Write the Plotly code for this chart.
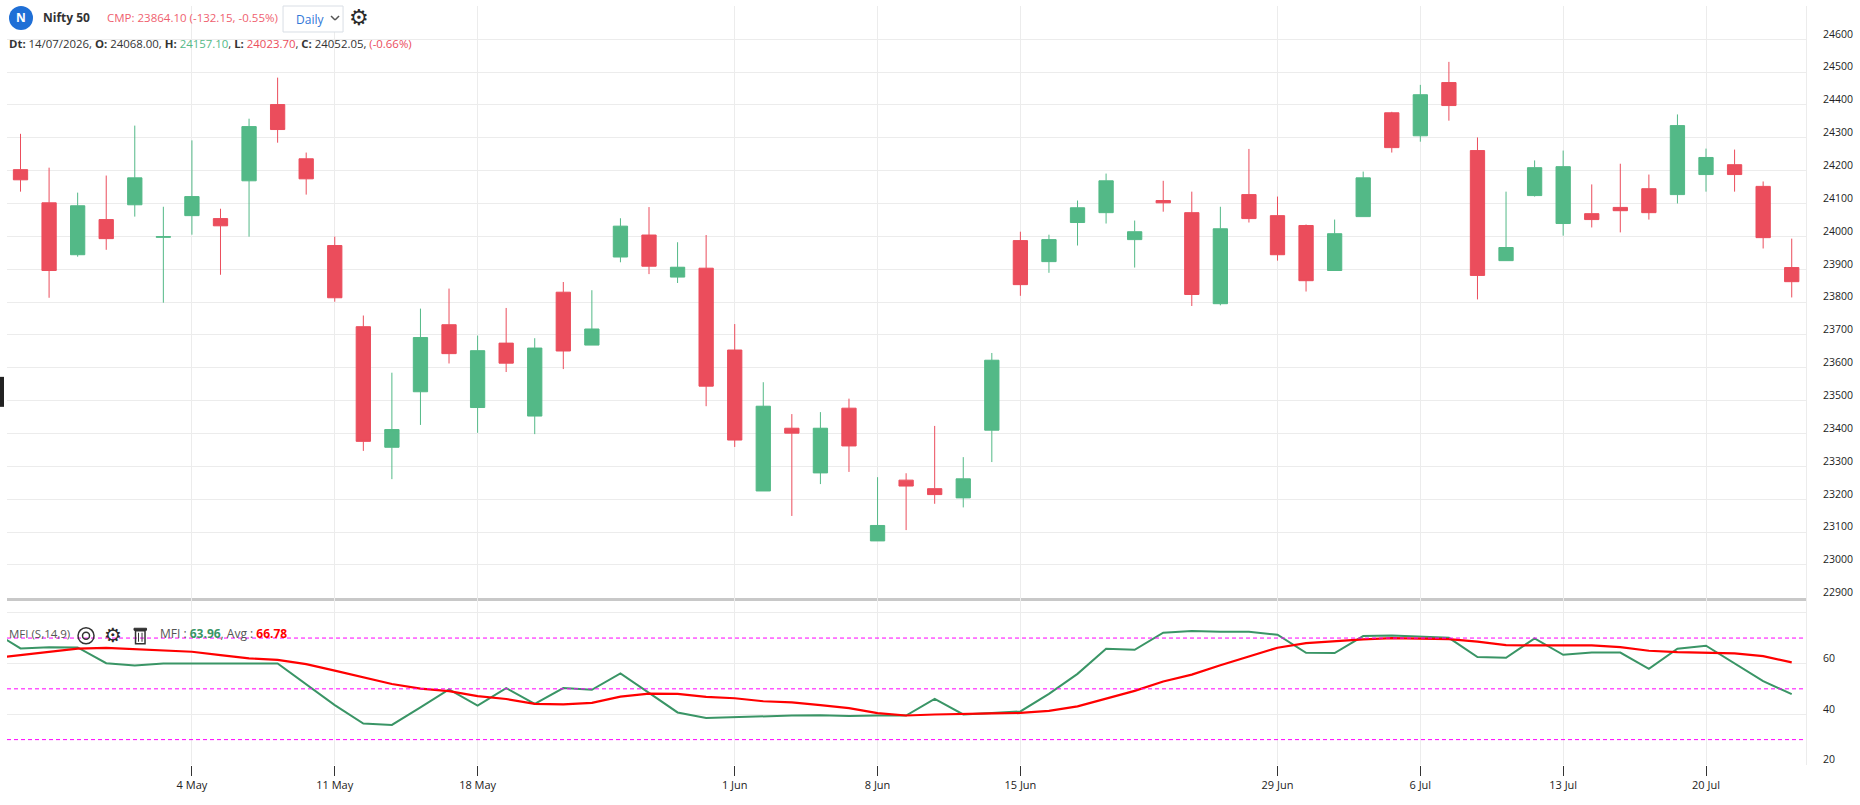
import plotly.graph_objects as go
from plotly.subplots import make_subplots

# candle data, one entry per trading session
candle_idx = list(range(63))
opens = [24203, 24102, 23944, 24051, 24096, 23997, 24063, 24054, 24169, 24401, 24236,
         23972, 23725, 23358, 23527, 23731, 23479, 23675, 23453, 23830, 23669,
         23937, 24004, 23876, 23903, 23654, 23225, 23416, 23280, 23477, 23073,
         23258, 23232, 23204, 23410, 23987, 23923, 24042, 24072, 23990, 24109,
         24072, 23795, 24127, 24063, 24033, 23896, 24060, 24376, 24306, 24468,
         24261, 23926, 24124, 24039, 24069, 24088, 24145, 24127, 24188, 24218,
         24152, 23905]
highs = [24312, 24209, 24133, 24185, 24337, 24090, 24292, 24084, 24358, 24483, 24255,
         23999, 23759, 23585, 23780, 23841, 23698, 23782, 23690, 23861, 23836,
         24055, 24089, 23982, 24004, 23733, 23556, 23459, 23465, 23506, 23267,
         23279, 23423, 23328, 23645, 24014, 24005, 24109, 24191, 24048, 24169,
         24136, 24090, 24266, 24121, 24036, 24051, 24197, 24379, 24461, 24531,
         24301, 24136, 24231, 24261, 24158, 24221, 24188, 24371, 24267, 24264,
         24167, 23993]
lows = [24136, 23813, 23938, 23959, 24060, 23798, 24005, 23883, 23999, 24285, 24127,
        23801, 23347, 23261, 23426, 23613, 23402, 23587, 23398, 23596, 23669,
        23921, 23885, 23858, 23483, 23359, 23225, 23149, 23246, 23283, 23073,
        23106, 23186, 23175, 23313, 23819, 23889, 23972, 24039, 23905, 24075,
        23788, 23790, 24042, 23926, 23832, 23896, 24060, 24255, 24288, 24352,
        23808, 23926, 24121, 24002, 24027, 24012, 24051, 24100, 24136, 24136,
        23963, 23814]
closes = [24172, 23896, 24093, 23993, 24178, 23999, 24121, 24032, 24334, 24325, 24175,
          23813, 23376, 23412, 23692, 23643, 23652, 23614, 23660, 23651, 23718,
          24031, 23909, 23906, 23544, 23380, 23483, 23401, 23416, 23362, 23120,
          23240, 23214, 23262, 23623, 23853, 23990, 24087, 24169, 24014, 24102,
          23823, 24023, 24054, 23944, 23865, 24008, 24178, 24270, 24431, 24398,
          23881, 23966, 24209, 24212, 24051, 24078, 24072, 24337, 24240, 24188,
          23996, 23862]

# indicator, starts one session before the first visible candle
mfi_idx = list(range(-1, 63))
mfi = [72.9, 65.9, 66.4, 66.3, 60.1, 59.2, 60.0, 59.9, 60.1, 60.0, 60.0,
       51.9, 43.6, 36.3, 35.8, 42.7, 49.8, 43.4, 50.3, 44.1, 50.3, 49.6,
       56.1, 48.4, 40.7, 38.5, 38.9, 39.3, 39.5, 39.6, 39.3, 39.5, 39.5,
       46.0, 39.9, 40.5, 41.1, 48.0, 55.9, 65.8, 65.4, 72.1, 72.8, 72.5,
       72.5, 71.3, 64.2, 64.1, 70.8, 71.0, 70.5, 70.1, 62.5, 62.2, 69.9,
       63.4, 64.3, 64.3, 57.9, 65.8, 67.0, 60.0, 53.0, 47.9]
mfi_avg = [62.0, 63.3, 64.6, 65.8, 66.1, 65.7, 65.2, 64.6, 63.3, 62.0, 61.4,
           59.7, 57.2, 54.5, 51.9, 50.1, 49.1, 47.1, 46.0, 44.1, 43.9, 44.5,
           46.9, 48.1, 48.0, 46.8, 46.3, 45.1, 44.7, 43.6, 42.4, 40.4, 39.5,
           39.9, 40.0, 40.3, 40.5, 41.3, 43.1, 46.1, 49.2, 52.9, 55.6, 59.3,
           62.8, 66.2, 68.0, 68.8, 69.5, 70.0, 69.9, 69.6, 68.6, 67.2, 67.1,
           67.1, 67.1, 66.4, 65.0, 64.5, 64.2, 64.0, 62.9, 60.4]
mfi_levels = [70, 50, 30]

date_ticks = [6, 11, 16, 25, 30, 35, 44, 49, 54, 59]
date_labels = ['4 May', '11 May', '18 May', '1 Jun', '8 Jun', '15 Jun',
               '29 Jun', '6 Jul', '13 Jul', '20 Jul']
price_ticks = list(range(22900, 24700, 100))
mfi_ticks = [20, 40, 60, 80]
mfi_tick_labels = ['20', '40', '60', '']

FONT = 'Open Sans'
GRID = '#ececec'
UP = '#53b987'
DOWN = '#eb4d5c'
WIDTH, HEIGHT = 1860, 805
LEFT, RIGHT, TOP, BOTTOM = 7, 1805.7, 6, 765.3
SPLIT = 598


def px_x(x):
    return (x - LEFT) / (RIGHT - LEFT)


def px_y(y):
    return (BOTTOM - y) / (BOTTOM - TOP)


fig = make_subplots(rows=2, cols=1, shared_xaxes=True, vertical_spacing=0)

fig.add_trace(go.Candlestick(x=candle_idx, open=opens, high=highs, low=lows, close=closes,
                             whiskerwidth=0,
                             increasing=dict(line=dict(color=UP, width=1), fillcolor=UP),
                             decreasing=dict(line=dict(color=DOWN, width=1), fillcolor=DOWN),
                             showlegend=False), row=1, col=1)
fig.add_trace(go.Scatter(x=mfi_idx, y=mfi, mode='lines', name='MFI',
                         line=dict(color='#3a9566', width=2), showlegend=False), row=2, col=1)
fig.add_trace(go.Scatter(x=mfi_idx, y=mfi_avg, mode='lines', name='Avg',
                         line=dict(color='#ff0000', width=2.2), showlegend=False), row=2, col=1)

for level in mfi_levels:
    fig.add_hline(y=level, line=dict(color='#ff00ff', width=1, dash='4px,3px'), row=2, col=1)

fig.update_xaxes(range=[-0.473, 62.5], tickmode='array', tickvals=date_ticks, ticktext=date_labels,
                 showgrid=True, gridcolor=GRID, gridwidth=1, zeroline=False,
                 rangeslider_visible=False)
fig.update_xaxes(showticklabels=False, ticks='', showline=True, linecolor='#c8c8c8', linewidth=2.5,
                 row=1, col=1)
fig.update_xaxes(ticks='outside', ticklen=10, tickcolor='#333333', tickwidth=1, showline=False,
                 tickfont=dict(family=FONT, size=11, color='#222222'), row=2, col=1)

axis_common = dict(side='right', showgrid=True, gridcolor=GRID, gridwidth=1, zeroline=False,
                   showline=True, linecolor=GRID, linewidth=1, ticks='',
                   ticklabelposition='outside top', ticklabelstandoff=14, ticklabelshift=2,
                   tickfont=dict(family=FONT, size=10.5, color='#222222'), tickmode='array')
fig.update_yaxes(range=[22900, 24701], tickvals=price_ticks, ticktext=[str(v) for v in price_ticks],
                 domain=[px_y(SPLIT), 1], **axis_common, row=1, col=1)
fig.update_yaxes(range=[20, 85.87], tickvals=mfi_ticks, ticktext=mfi_tick_labels,
                 domain=[0, px_y(SPLIT)], **axis_common, row=2, col=1)

# header and indicator legend, placed by pixel
def label(x, y, text, size=12, color='#333333', anchor='left', family=FONT):
    fig.add_annotation(xref='paper', yref='paper', x=px_x(x), y=px_y(y), text=text, showarrow=False,
                       xanchor=anchor, yanchor='middle', xshift=0, borderpad=0,
                       font=dict(family=family, size=size, color=color))


def box(x0, y0, x1, y1, **kw):
    fig.add_shape(type='rect', xref='paper', yref='paper', x0=px_x(x0), x1=px_x(x1),
                  y0=px_y(y0), y1=px_y(y1), **kw)


def disc(x, y, r, **kw):
    fig.add_shape(type='circle', xref='paper', yref='paper', x0=px_x(x - r), x1=px_x(x + r),
                  y0=px_y(y - r), y1=px_y(y + r), **kw)


def stroke(x0, y0, x1, y1, color='#333333', width=1.5):
    fig.add_shape(type='line', xref='paper', yref='paper', x0=px_x(x0), x1=px_x(x1),
                  y0=px_y(y0), y1=px_y(y1), line=dict(color=color, width=width))


disc(21, 18, 12, fillcolor='#1f6fd6', line=dict(width=0))
label(21, 18, '<b>N</b>', size=12, color='white', anchor='center')
label(42, 18, '<b>Nifty 50</b>', size=12)
label(106, 18, 'CMP: 23864.10 (-132.15, -0.55%)', size=11.5, color='#ef5f6f')
box(283, 6, 343, 32, line=dict(color='#d9dee5', width=1), fillcolor='white')
label(295, 20, 'Daily', size=12, color='#2f77d8')
stroke(331, 16, 335, 20, color='#555555')
stroke(335, 20, 339, 16, color='#555555')
label(359, 18, '⚙', size=22, color='#2b2b2b', anchor='center', family='DejaVu Sans')
label(8, 44, '<b>Dt:</b> 14/07/2026, <b>O:</b> 24068.00, <b>H:</b> '
      '<span style="color:#53b987">24157.10</span>, <b>L:</b> '
      '<span style="color:#eb4d5c">24023.70</span>, <b>C:</b> 24052.05, '
      '<span style="color:#eb4d5c">(-0.66%)</span>', size=11.4)

label(8, 634, 'MFI (S,14,9)', size=11.5, color='#555555')
disc(86, 636, 8, line=dict(color='#333333', width=1.5), fillcolor='rgba(0,0,0,0)')
disc(86, 636, 3.5, line=dict(color='#333333', width=1.5), fillcolor='rgba(0,0,0,0)')
label(113, 635, '⚙', size=20, color='#2b2b2b', anchor='center', family='DejaVu Sans')
box(135.5, 631, 145, 644, line=dict(color='#333333', width=1.5), fillcolor='rgba(0,0,0,0)')
box(134, 628.5, 146.5, 630.5, line=dict(color='#333333', width=1), fillcolor='#333333')
stroke(138.5, 633, 138.5, 642, width=1)
stroke(142, 633, 142, 642, width=1)
label(159, 634, 'MFI : <b><span style="color:#3a9566">63.96</span></b>, Avg : '
      '<b><span style="color:#ff0000">66.78</span></b>', size=12, color='#555555')

# handle stuck on the left edge
box(0, 377, 4, 407, line=dict(width=0), fillcolor='#222222')

fig.update_layout(width=WIDTH, height=HEIGHT, paper_bgcolor='white', plot_bgcolor='white',
                  margin=dict(l=LEFT, r=WIDTH - RIGHT, t=TOP, b=HEIGHT - BOTTOM, pad=0),
                  boxgap=0.5, boxgroupgap=0, showlegend=False, font=dict(family=FONT))

fig.write_html("out.html", config=dict(displayModeBar=False),
               post_script="document.body.style.margin='0';document.body.style.overflow='hidden';")
